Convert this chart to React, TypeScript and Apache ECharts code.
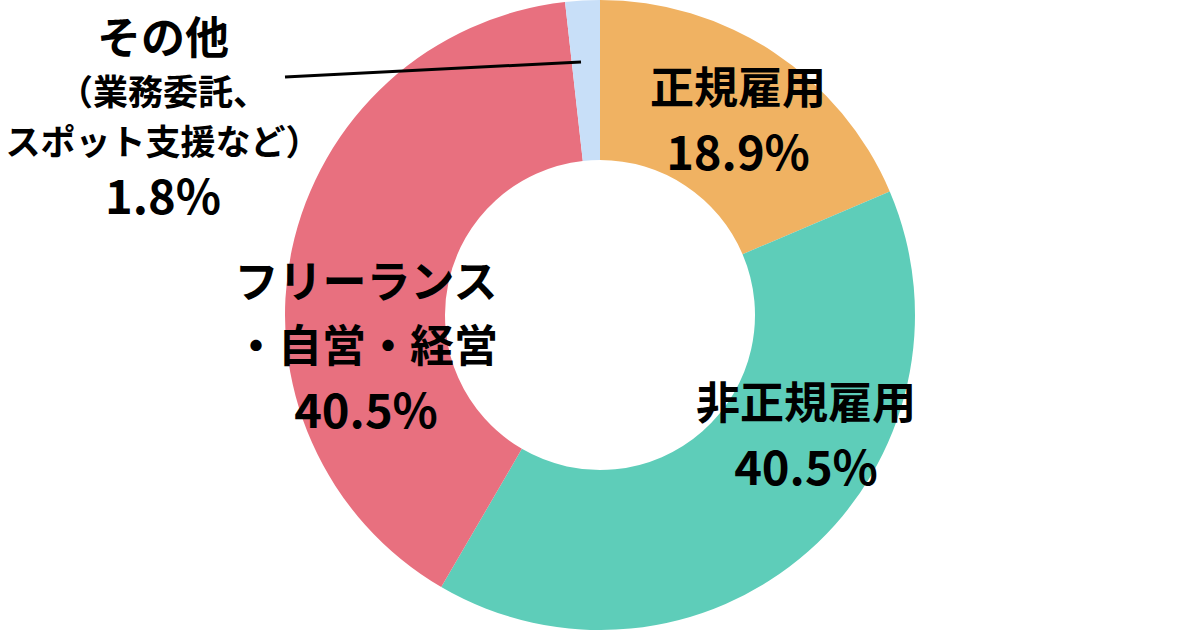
import React, { useEffect, useRef } from "react";
import * as echarts from "echarts";

const names = ["正規雇用", "非正規雇用", "フリーランス・自営・経営", "その他（業務委託、スポット支援など）"];
const values = [18.9, 40.5, 40.5, 1.8];
const colors = ["#F0B262", "#5ECDB9", "#E8707F", "#C8DFF8"];
const labelLines: string[][] = [
  ["正規雇用"],
  ["非正規雇用"],
  ["フリーランス", "・自営・経営"],
  ["その他", "（業務委託、", "スポット支援など）"],
];
// label block centres (layout)
const labelPos = [
  [738, 117],
  [806, 432],
  [366, 343],
  [163, 114],
];

export default function App() {
  const ref = useRef<HTMLDivElement>(null);
  useEffect(() => {
    document.body.style.margin = "0";
    const chart = echarts.init(ref.current!, undefined, { renderer: "svg" });
    const font = "'Noto Sans CJK JP', 'Noto Sans', sans-serif";
    chart.setOption({
      animation: false,
      backgroundColor: "#ffffff",
      graphic: [
        {
          type: "polyline",
          z: 100,
          shape: { points: [[581, 62], [285, 77]] },
          style: { stroke: "#000", lineWidth: 3, fill: null },
        },
      ],
      series: [
        {
          type: "pie",
          center: [600, 315],
          radius: [155, 315],
          startAngle: 90,
          clockwise: true,
          avoidLabelOverlap: false,
          itemStyle: { borderWidth: 0 },
          emphasis: { disabled: true },
          data: values.map((v, i) => ({
            name: names[i],
            value: v,
            itemStyle: { color: colors[i] },
            label:
              i === 3
                ? {
                    position: "outside",
                    formatter: () =>
                      `{h|${labelLines[3][0]}}\n{s|${labelLines[3][1]}}\n{s|${labelLines[3][2]}}\n{q|${v.toFixed(1)}%}`,
                  }
                : {
                    position: "inside",
                    formatter: () =>
                      labelLines[i].map((l) => `{t|${l}}`).join("\n") + `\n{p|${v.toFixed(1)}%}`,
                  },
            labelLine: { show: false },
          })),
          label: {
            color: "#000",
            fontFamily: font,
            fontWeight: "bold",
            align: "center",
            rich: {
              t: { fontSize: 44, lineHeight: 64, fontWeight: "bold", fontFamily: font, color: "#000" },
              p: { fontSize: 47, lineHeight: 64, fontWeight: "bold", fontFamily: font, color: "#000" },
              h: { fontSize: 44, lineHeight: 58, fontWeight: "bold", fontFamily: font, color: "#000" },
              s: { fontSize: 35, lineHeight: 50, fontWeight: "bold", fontFamily: font, color: "#000" },
              q: { fontSize: 47, lineHeight: 58, fontWeight: "bold", fontFamily: font, color: "#000" },
            },
          },
          labelLayout: (params: any) => {
            const i = params.dataIndex;
            return {
              x: labelPos[i][0],
              y: labelPos[i][1],
              align: "center",
              verticalAlign: "middle",
            };
          },
        },
      ],
    });
    return () => chart.dispose();
  }, []);
  return <div ref={ref} style={{ width: 1200, height: 630 }} />;
}
